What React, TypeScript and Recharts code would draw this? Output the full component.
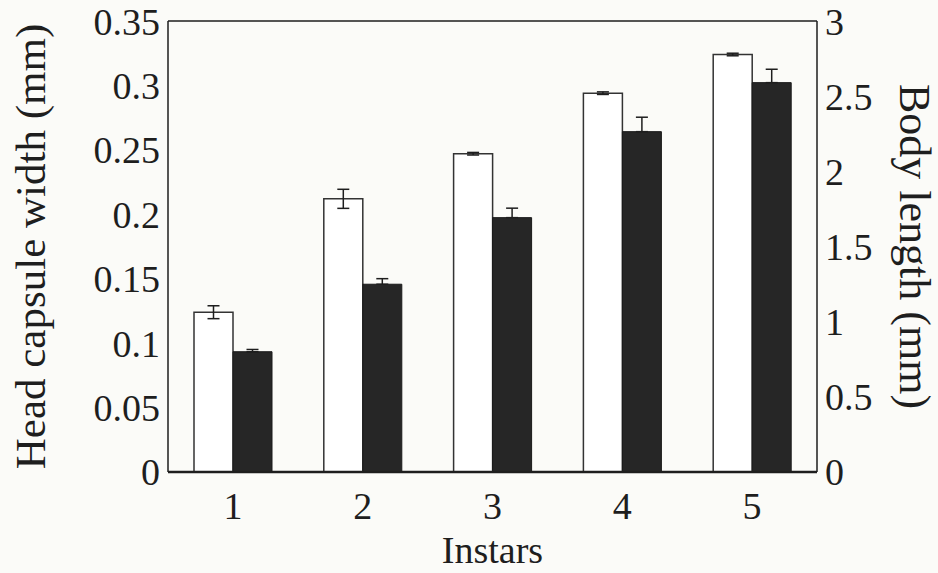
import { BarChart, Bar, XAxis, YAxis, ErrorBar, ReferenceLine } from 'recharts';

const instars = ['1', '2', '3', '4', '5'];
const headWidth = [0.124, 0.212, 0.247, 0.294, 0.324];
const headErr = [0.005, 0.0074, 0.001, 0.001, 0.001];
const bodyLength = [0.8, 1.249, 1.692, 2.264, 2.59];
const bodyErr = [0.015, 0.037, 0.063, 0.096, 0.089];
const leftTicks = [0, 0.05, 0.1, 0.15, 0.2, 0.25, 0.3, 0.35];
const rightTicks = [0, 0.5, 1, 1.5, 2, 2.5, 3];

const ink = '#1e1e1e';
const font = '"Liberation Serif", "Times New Roman", serif';

const data = instars.map((name, i) => ({
  name,
  head: headWidth[i],
  headErr: [headErr[i], headErr[i]],
  body: bodyLength[i],
  bodyErr: [0, bodyErr[i]],
}));

const tickStyle = { fontSize: 38, fill: ink, fontFamily: font };

const App = () => {
  return (
    <div style={{ position: 'absolute', left: 0, top: 0, width: 938, height: 573, background: '#fbfbf8' }}>
      <BarChart
        width={938}
        height={573}
        data={data}
        margin={{ top: 21, right: 0, bottom: 0, left: 0 }}
        barGap={0}
        barSize={39}
      >
        <XAxis
          dataKey="name"
          height={101}
          tick={tickStyle}
          tickLine={false}
          tickMargin={14}
          axisLine={{ stroke: ink, strokeWidth: 2.5 }}
          label={{ value: 'Instars', position: 'insideBottom', offset: 10, style: { fontSize: 38, fill: ink, fontFamily: font } }}
        />
        <YAxis
          yAxisId="left"
          width={168}
          domain={[0, 0.35]}
          ticks={leftTicks}
          tick={tickStyle}
          tickLine={false}
          axisLine={{ stroke: ink, strokeWidth: 1.5 }}
          label={{
            value: 'Head capsule width (mm)',
            angle: -90,
            position: 'insideLeft',
            offset: 30,
            style: { fontSize: 43, fill: ink, fontFamily: font, textAnchor: 'middle' },
          }}
        />
        <YAxis
          yAxisId="right"
          orientation="right"
          width={121}
          domain={[0, 3]}
          ticks={rightTicks}
          tick={tickStyle}
          tickLine={false}
          axisLine={{ stroke: ink, strokeWidth: 1.5 }}
          label={{
            value: 'Body length (mm)',
            angle: 90,
            position: 'insideRight',
            offset: 22,
            style: { fontSize: 44, fill: ink, fontFamily: font, textAnchor: 'middle' },
          }}
        />
        <ReferenceLine yAxisId="left" y={0.35} stroke={ink} strokeWidth={1.5} />
        <Bar yAxisId="left" dataKey="head" fill="#ffffff" stroke="#333" strokeWidth={1.5} isAnimationActive={false}>
          <ErrorBar dataKey="headErr" width={6} stroke={ink} strokeWidth={1.5} direction="y" />
        </Bar>
        <Bar yAxisId="right" dataKey="body" fill="#262626" stroke="#1a1a1a" strokeWidth={1} isAnimationActive={false}>
          <ErrorBar dataKey="bodyErr" width={6} stroke={ink} strokeWidth={1.5} direction="y" />
        </Bar>
      </BarChart>
    </div>
  );
};

export default App;
